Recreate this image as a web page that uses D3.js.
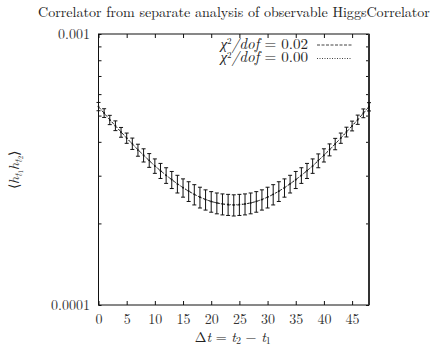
<!DOCTYPE html>
<html>
<head>
<meta charset="utf-8">
<title>HiggsCorrelator</title>
<script src="https://d3js.org/d3.v7.min.js"></script>
<style>
    body { margin: 0; background: #fff; }
</style>
</head>
<body>
<svg class="chart"></svg>
<script>
    // data: separation t, correlator (units of 1e-4), error (units of 1e-4)
    var tValues = d3.range(0, 49);
    var corr = [5.40, 5.11, 4.82, 4.59, 4.34, 4.13, 3.94, 3.73, 3.57, 3.42,
                3.26, 3.13, 3.01, 2.90, 2.80, 2.71, 2.63, 2.56, 2.50, 2.45,
                2.41, 2.38, 2.36, 2.35, 2.34, 2.35, 2.36, 2.38, 2.41, 2.45,
                2.50, 2.56, 2.63, 2.71, 2.80, 2.90, 3.01, 3.13, 3.26, 3.41,
                3.57, 3.74, 3.93, 4.13, 4.35, 4.58, 4.83, 5.10, 5.39];
    var corrErr = [0.19, 0.19, 0.19, 0.19, 0.18, 0.18, 0.19, 0.19, 0.20, 0.20,
                   0.20, 0.20, 0.20, 0.21, 0.21, 0.21, 0.22, 0.22, 0.22, 0.21,
                   0.21, 0.21, 0.21, 0.21, 0.21, 0.21, 0.21, 0.21, 0.21, 0.21,
                   0.22, 0.22, 0.22, 0.21, 0.21, 0.21, 0.20, 0.20, 0.20, 0.20,
                   0.20, 0.19, 0.19, 0.18, 0.18, 0.19, 0.19, 0.19, 0.19];
    // fit curves
    var fitDashed = [5.39, 5.10, 4.83, 4.58, 4.35, 4.13, 3.93, 3.74, 3.57, 3.41,
                     3.26, 3.13, 3.01, 2.90, 2.80, 2.71, 2.63, 2.56, 2.50, 2.45,
                     2.41, 2.38, 2.36, 2.34, 2.34, 2.34, 2.36, 2.38, 2.41, 2.45,
                     2.50, 2.56, 2.63, 2.71, 2.80, 2.90, 3.01, 3.13, 3.26, 3.41,
                     3.57, 3.74, 3.93, 4.13, 4.35, 4.58, 4.83, 5.10, 5.39];
    var fitDotted = [5.40, 5.11, 4.83, 4.58, 4.35, 4.13, 3.93, 3.74, 3.57, 3.41,
                     3.26, 3.13, 3.01, 2.90, 2.80, 2.71, 2.63, 2.56, 2.50, 2.45,
                     2.41, 2.38, 2.36, 2.35, 2.34, 2.35, 2.36, 2.38, 2.41, 2.45,
                     2.50, 2.56, 2.63, 2.71, 2.80, 2.90, 3.01, 3.13, 3.26, 3.41,
                     3.57, 3.74, 3.93, 4.13, 4.35, 4.58, 4.83, 5.11, 5.40];
    var xTicks = [0, 5, 10, 15, 20, 25, 30, 35, 40, 45];
    var yTicks = [1e-4, 2e-4, 3e-4, 4e-4, 5e-4, 6e-4, 7e-4, 8e-4, 9e-4, 1e-3];
    var yLabelTicks = [1e-4, 1e-3];
    var legendLabels = ["0.02", "0.00"];
    var titleText = "Correlator from separate analysis of observable HiggsCorrelator";

    var points = tValues.map(function(t, i) {
        return { t: t, v: corr[i] * 1e-4, e: corrErr[i] * 1e-4 };
    });

    var FONT = "'Latin Modern Roman', 'Liberation Serif', serif";

    //set up chart
    var W = 431, H = 346;
    var margin = { top: 34, right: 62, bottom: 41, left: 98.5 };
    var width = W - margin.left - margin.right;
    var height = H - margin.top - margin.bottom;

    var svg = d3.select(".chart").attr("width", W).attr("height", H);
    var chart = svg.append("g")
        .attr("transform", "translate(" + margin.left + "," + margin.top + ")");

    var xChart = d3.scaleLinear().domain([0, 48]).range([0, width]);
    var yChart = d3.scaleLog().domain([1e-4, 1e-3]).range([height, 0]);

    var fontSize = 14;

    //bottom axis
    var xAxis = chart.append("g")
        .attr("transform", "translate(0," + height + ")")
        .call(d3.axisBottom(xChart).tickValues(xTicks).tickSize(-4).tickPadding(9).tickFormat(d3.format("d")));
    //top axis
    var xAxisTop = chart.append("g")
        .call(d3.axisTop(xChart).tickValues(xTicks).tickSize(-4).tickFormat(""));
    //left axis
    var yAxis = chart.append("g")
        .call(d3.axisLeft(yChart).tickValues(yTicks).tickSize(-3).tickPadding(8.5)
            .tickFormat(function(d) { return yLabelTicks.indexOf(d) >= 0 ? (d === 1e-3 ? "0.001" : "0.0001") : ""; }));
    //right axis
    var yAxisRight = chart.append("g")
        .attr("transform", "translate(" + width + ",0)")
        .call(d3.axisRight(yChart).tickValues(yTicks).tickSize(-3).tickFormat(""));

    [xAxis, xAxisTop, yAxis, yAxisRight].forEach(function(a) {
        a.select(".domain").remove();
        a.selectAll(".tick line").attr("stroke", "#111");
        a.selectAll("text").style("font-family", FONT).style("font-size", fontSize + "px").attr("fill", "#333");
    });

    //frame
    chart.append("rect")
        .attr("x", 0).attr("y", 0)
        .attr("width", width).attr("height", height)
        .attr("fill", "none").attr("stroke", "#111").attr("stroke-width", 1);
    chart.append("line")
        .attr("x1", width).attr("x2", width).attr("y1", 0).attr("y2", height)
        .attr("stroke", "#333").attr("stroke-width", 2);

    //fit curves
    var lineFit = function(arr) {
        return d3.line()
            .x(function(d, i) { return xChart(tValues[i]); })
            .y(function(d) { return yChart(d * 1e-4); })(arr);
    };
    chart.append("path")
        .attr("d", lineFit(fitDashed))
        .attr("fill", "none").attr("stroke", "#111").attr("stroke-width", 0.8)
        .attr("stroke-dasharray", "3,2");
    chart.append("path")
        .attr("d", lineFit(fitDotted))
        .attr("fill", "none").attr("stroke", "#111").attr("stroke-width", 0.8)
        .attr("stroke-dasharray", "1,2");

    //error bars
    var bars = chart.selectAll(".err").data(points).enter().append("g").attr("class", "err")
        .attr("stroke", "#111").attr("stroke-width", 1);
    bars.append("line")
        .attr("x1", function(d) { return xChart(d.t); })
        .attr("x2", function(d) { return xChart(d.t); })
        .attr("y1", function(d) { return yChart(d.v - d.e); })
        .attr("y2", function(d) { return yChart(d.v + d.e); });
    bars.append("line")
        .attr("x1", function(d) { return xChart(d.t) - 2; })
        .attr("x2", function(d) { return xChart(d.t) + 2; })
        .attr("y1", function(d) { return yChart(d.v - d.e); })
        .attr("y2", function(d) { return yChart(d.v - d.e); });
    bars.append("line")
        .attr("x1", function(d) { return xChart(d.t) - 2; })
        .attr("x2", function(d) { return xChart(d.t) + 2; })
        .attr("y1", function(d) { return yChart(d.v + d.e); })
        .attr("y2", function(d) { return yChart(d.v + d.e); });
    chart.selectAll(".pt").data(points).enter().append("circle")
        .attr("cx", function(d) { return xChart(d.t); })
        .attr("cy", function(d) { return yChart(d.v); })
        .attr("r", 0.9).attr("fill", "#111");

    //legend
    var legend = chart.selectAll(".legend").data(legendLabels).enter().append("g")
        .attr("transform", function(d, i) { return "translate(0," + (48.5 - margin.top + i * 13.5) + ")"; });
    var legText = legend.append("text")
        .attr("x", 308 - margin.left)
        .attr("text-anchor", "end")
        .style("font-family", FONT)
        .style("font-size", fontSize + "px")
        .attr("fill", "#222");
    legText.append("tspan").style("font-style", "italic").text("χ");
    legText.append("tspan").style("font-size", "9px").attr("dy", -4.5).text("2");
    legText.append("tspan").attr("dy", 4.5).style("font-style", "italic").text("/dof");
    legText.append("tspan").text(function(d) { return " = " + d; });
    var lw = legText.node().getComputedTextLength();
    legText.style("font-size", (fontSize * 88 / lw) + "px");
    legend.append("line")
        .attr("x1", 317 - margin.left).attr("x2", 352 - margin.left)
        .attr("y1", -3.5).attr("y2", -3.5)
        .attr("stroke", "#111").attr("stroke-width", 0.8)
        .attr("stroke-dasharray", function(d, i) { return i === 0 ? "3,1.5" : "1,1.5"; });

    //title
    var title = svg.append("text")
        .attr("x", 234).attr("y", 17)
        .attr("text-anchor", "middle")
        .style("font-family", FONT)
        .style("font-size", fontSize + "px")
        .attr("fill", "#222")
        .text(titleText);
    var tw = title.node().getComputedTextLength();
    title.style("font-size", (fontSize * 392 / tw) + "px");

    //x label
    var xl = svg.append("text")
        .attr("x", margin.left + width / 2 - 1).attr("y", 342)
        .attr("text-anchor", "middle")
        .style("font-family", FONT).style("font-size", fontSize + "px").attr("fill", "#222");
    xl.append("tspan").text("Δ");
    xl.append("tspan").style("font-style", "italic").text("t");
    xl.append("tspan").text(" = ");
    xl.append("tspan").style("font-style", "italic").text("t");
    xl.append("tspan").style("font-size", "10px").attr("dy", 2).text("2");
    xl.append("tspan").attr("dy", -2).text(" − ");
    xl.append("tspan").style("font-style", "italic").text("t");
    xl.append("tspan").style("font-size", "10px").attr("dy", 2).text("1");

    //y label
    var yl = svg.append("text")
        .attr("transform", "translate(19," + 170 + ") rotate(-90)")
        .attr("text-anchor", "middle")
        .style("font-family", FONT).style("font-size", fontSize + "px").attr("fill", "#222");
    yl.append("tspan").text("⟨");
    yl.append("tspan").style("font-style", "italic").text("h");
    yl.append("tspan").style("font-style", "italic").style("font-size", "10px").attr("dy", 2.5).text("t");
    yl.append("tspan").style("font-size", "7px").attr("dy", 1.5).text("1");
    yl.append("tspan").style("font-style", "italic").attr("dy", -4).text("h");
    yl.append("tspan").style("font-style", "italic").style("font-size", "10px").attr("dy", 2.5).text("t");
    yl.append("tspan").style("font-size", "7px").attr("dy", 1.5).text("2");
    yl.append("tspan").attr("dy", -4).text("⟩");
</script>
</body>
</html>
